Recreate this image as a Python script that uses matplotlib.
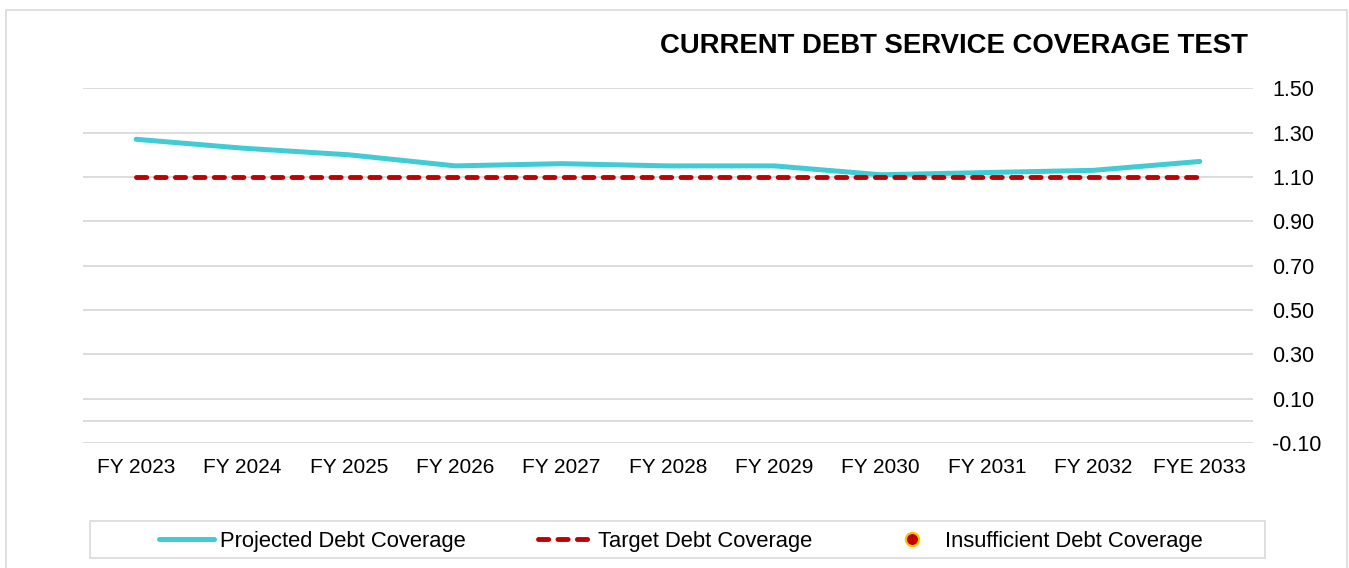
import matplotlib
matplotlib.use("Agg")
import matplotlib.pyplot as plt
from matplotlib.lines import Line2D
from matplotlib.patches import Rectangle

plt.rcParams['font.family'] = ['Liberation Sans', 'DejaVu Sans']
plt.rcParams['axes.unicode_minus'] = False

years = ["FY 2023", "FY 2024", "FY 2025", "FY 2026", "FY 2027", "FY 2028",
         "FY 2029", "FY 2030", "FY 2031", "FY 2032", "FYE 2033"]
projected = [1.27, 1.23, 1.20, 1.15, 1.16, 1.15, 1.15, 1.11, 1.12, 1.13, 1.17]
target = [1.10, 1.10, 1.10, 1.10, 1.10, 1.10, 1.10, 1.10, 1.10, 1.10, 1.10]
y_ticks = [-0.10, 0.10, 0.30, 0.50, 0.70, 0.90, 1.10, 1.30, 1.50]

W, H = 1349, 568
cyan = "#41CBD5"
red = "#C00000"
grid = "#D9D9D9"
fs = 15.5
dash = (0, (2.1, 1.9))

fig = plt.figure(figsize=(W / 100, H / 100), dpi=100)

# outer chart border
fig.add_artist(Rectangle((6 / W, -0.05), (1347 - 6) / W, 1.05 - 10 / H,
                         transform=fig.transFigure, fill=False,
                         edgecolor=grid, linewidth=1.2))

ax = fig.add_axes([83 / W, 125 / H, (1253 - 83) / W, (443 - 88.3) / H])
x = list(range(len(years)))

ax.set_xlim(-0.5, len(years) - 0.5)
ax.set_ylim(-0.10, 1.50)
ax.set_yticks(y_ticks)
ax.set_yticklabels([f"{v:.2f}" for v in y_ticks])
ax.set_xticks(x)
ax.set_xticklabels(years)
ax.yaxis.tick_right()
ax.tick_params(axis='y', length=0, pad=14, labelsize=fs, colors="#000000")
ax.tick_params(axis='x', length=0, pad=11, labelsize=fs - 0.5, colors="#000000")
for s in ax.spines.values():
    s.set_visible(False)
ax.grid(axis='y', color=grid, linewidth=1.3)
ax.axhline(0, color=grid, linewidth=1.3, zorder=1)
ax.set_axisbelow(True)

ax.plot(x, projected, color=cyan, linewidth=3.6, solid_capstyle='round', zorder=3)
ax.plot(x, target, color=red, linewidth=3.5, linestyle=dash,
        dash_capstyle='round', zorder=4)

fig.text(1248 / W, 1 - 46 / H, "CURRENT DEBT SERVICE COVERAGE TEST",
         ha='right', va='center', fontsize=19.8, fontweight='bold')

# legend
fig.add_artist(Rectangle((90 / W, 1 - 558 / H), (1265 - 90) / W, 37 / H,
                         transform=fig.transFigure, fill=False,
                         edgecolor=grid, linewidth=1.2))
handles = [
    Line2D([], [], color=cyan, linewidth=3.6, solid_capstyle='round'),
    Line2D([], [], color=red, linewidth=3.5, linestyle=dash,
           dash_capstyle='round'),
    Line2D([], [], linestyle='none', marker='o', markersize=9.5,
           markerfacecolor=red, markeredgecolor="#FFC000", markeredgewidth=1.6),
]
labels = ["Projected Debt Coverage", "Target Debt Coverage",
          "Insufficient Debt Coverage"]
fig.legend(handles, labels, loc='center', bbox_to_anchor=(681 / W, 1 - 541.5 / H),
           ncol=3, frameon=False, fontsize=15.8, handlelength=2.5,
           handletextpad=0.25, columnspacing=3.3, borderpad=0, borderaxespad=0)

fig.savefig("out.png", dpi=100)
